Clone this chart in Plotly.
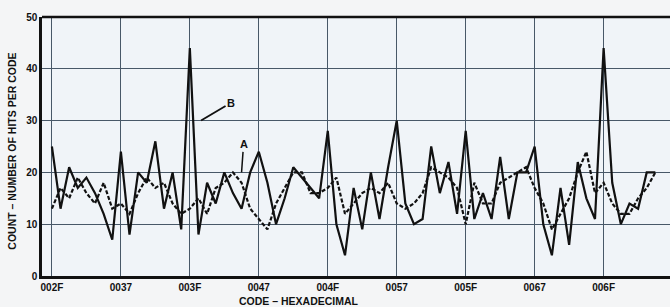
import plotly.graph_objects as go

codes = list(range(0x2F, 0x76))
series_b = [25, 13, 21, 17, 19, 16, 12, 7, 24, 8, 20, 18, 26, 13, 20, 9, 44, 8, 18, 14,
            20, 16, 13, 20, 24, 18, 10, 15, 21, 19, 17, 15, 28, 10, 4, 17, 9, 20, 11, 21,
            30, 14, 10, 11, 25, 16, 22, 12, 28, 11, 16, 11, 23, 11, 20, 20, 25, 10, 4, 17,
            6, 22, 15, 11, 44, 18, 10, 14, 13, 20, 20]
series_a = [13, 17, 15, 19, 16, 14, 18, 13, 14, 12, 16, 19, 17, 18, 14, 12, 13, 15, 12, 17,
            18, 20, 18, 13, 11, 9, 14, 17, 20, 20, 16, 16, 17, 19, 12, 14, 16, 17, 16, 18,
            14, 13, 14, 16, 21, 20, 19, 17, 10, 18, 14, 14, 18, 19, 20, 21, 17, 14, 9, 12,
            15, 20, 24, 16, 18, 14, 12, 12, 15, 17, 20]
tick_codes = [0x2F, 0x37, 0x3F, 0x47, 0x4F, 0x57, 0x5F, 0x67, 0x6F]
tick_labels = ["002F", "0037", "003F", "0047", "004F", "0057", "005F", "0067", "006F"]
y_ticks = [0, 10, 20, 30, 40, 50]

fig = go.Figure()
fig.add_trace(go.Scatter(x=codes, y=series_a, mode="lines", name="A",
                         line=dict(color="#111111", width=2.2, dash="4px,2px")))
fig.add_trace(go.Scatter(x=codes, y=series_b, mode="lines", name="B",
                         line=dict(color="#111111", width=2.2)))

fig.add_annotation(x=0x3F + 1.3, y=30, ax=30, ay=-18, text="<b>B</b>", showarrow=True,
                   arrowhead=0, arrowwidth=1.8, arrowcolor="#111", font=dict(size=11, color="#111"))
fig.add_annotation(x=0x3F + 6, y=20, ax=2, ay=-28, text="<b>A</b>", showarrow=True,
                   arrowhead=0, arrowwidth=1.5, arrowcolor="#111", font=dict(size=11, color="#111"))

fig.add_annotation(xref="paper", yref="paper", x=0.41, y=0, yshift=-25, yanchor="middle",
                   text="<b>CODE – HEXADECIMAL</b>", showarrow=False,
                   font=dict(size=10.5, color="#111"))
fig.add_annotation(xref="paper", yref="paper", x=0, xshift=-30, y=0.48, xanchor="center",
                   textangle=-90, text="<b>COUNT – NUMBER OF HITS PER CODE</b>", showarrow=False,
                   font=dict(size=10.5, color="#111"))

fig.update_layout(
    width=670, height=307,
    margin=dict(l=42, r=0, t=17, b=31),
    paper_bgcolor="#f4f5f6",
    plot_bgcolor="#f0f4f8",
    showlegend=False,
    font=dict(family="Liberation Sans, Arial, sans-serif", color="#111"),
)
fig.update_xaxes(range=[0x2F - 1.15, 0x2F + 71.7], tickvals=tick_codes,
                 ticktext=["<b>%s</b>" % t for t in tick_labels],
                 tickfont=dict(size=10), showgrid=True, gridcolor="#485868", gridwidth=1.2,
                 showline=True, linecolor="#111", linewidth=2.5, zeroline=False, ticks="")
fig.update_yaxes(range=[0, 50], tickvals=y_ticks, ticktext=["<b>%d</b>" % v for v in y_ticks],
                 tickfont=dict(size=10), showgrid=True, gridcolor="#485868", gridwidth=1.2,
                 showline=True, linecolor="#111", linewidth=2.5, zeroline=False, ticks="")
fig.add_shape(type="line", xref="paper", yref="paper", x0=0, x1=1, y0=1, y1=1,
              line=dict(color="#111", width=2.5))
fig.write_html("out.html", config={"displayModeBar": False},
               post_script="document.body.style.margin='0';")
